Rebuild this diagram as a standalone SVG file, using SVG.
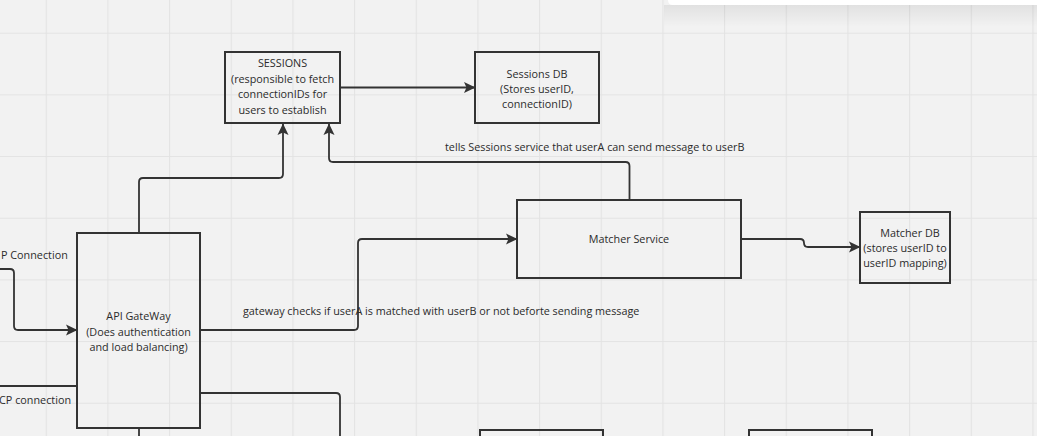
<svg xmlns="http://www.w3.org/2000/svg" width="1037" height="436" viewBox="0 0 1037 436">
<defs>
<pattern id="grid" x="45.7" y="32.7" width="61.67" height="61.67" patternUnits="userSpaceOnUse">
<path d="M0.5,0 V61.67 M0,0.5 H61.67" fill="none" stroke="#e3e3e3" stroke-width="1.2"/>
</pattern>
<marker id="arr" viewBox="0 0 12 12" refX="11" refY="6" markerWidth="12" markerHeight="12" markerUnits="userSpaceOnUse" orient="auto">
<path d="M0,0.5 L11.5,6 L0,11.5 L2.5,6 Z" fill="#333"/>
</marker>
<linearGradient id="sh" x1="0" y1="0" x2="0" y2="1">
<stop offset="0" stop-color="#000" stop-opacity="0.07"/>
<stop offset="1" stop-color="#000" stop-opacity="0"/>
</linearGradient>
</defs>
<style>
.box{fill:none;stroke:#333;stroke-width:2}
.c{fill:none;stroke:#333;stroke-width:1.8;stroke-linejoin:round}
text{font-family:"Open Sans","Noto Sans","Liberation Sans",sans-serif;font-size:10.8px;fill:#2b2b2b}
.m{text-anchor:middle}
</style>
<rect width="1037" height="436" fill="#f2f2f2"/>
<rect width="1037" height="436" fill="url(#grid)"/>
<g id="panel">
<rect x="664" y="5" width="373" height="22" fill="url(#sh)"/>
<path d="M668,0 H1037 V5 H673 Q668,5 668,0 Z" fill="#ffffff"/>
</g>
<g id="connectors">
<path class="c" marker-end="url(#arr)" d="M340,87.5 H475"/>
<path class="c" marker-end="url(#arr)" d="M139,233 V182 Q139,178 143,178 H279 Q283,178 283,174 V124"/>
<path class="c" marker-end="url(#arr)" d="M629.5,200 V166 Q629.5,162 625.5,162 H333 Q329,162 329,158 V124"/>
<path class="c" marker-end="url(#arr)" d="M200,330 H354 Q358,330 358,326 V243 Q358,239 362,239 H517"/>
<path class="c" marker-end="url(#arr)" d="M741,239 H800 Q804,239 804,243 Q804,247 808,247 H860"/>
<path class="c" marker-end="url(#arr)" d="M0,269 H10 Q14,269 14,273 V326 Q14,330 18,330 H77"/>
<path class="c" d="M0,386 H77"/>
<path class="c" d="M200,393 H336 Q340,393 340,397 V436"/>
<path class="c" d="M139,428 V436"/>
</g>
<g id="labels">
<text x="445" y="151">tells Sessions service that userA can send message to userB</text>
<text x="243" y="315">gateway checks if userA is matched with userB or not beforte sending message</text>
<text x="1" y="259">P Connection</text>
<text x="71" y="404" text-anchor="end">CP connection</text>
</g>
<g id="sessions">
<rect class="box" x="225" y="52" width="115" height="71"/>
<text class="m" x="282.5" y="67">SESSIONS</text>
<text class="m" x="282.5" y="82.5">(responsible to fetch</text>
<text class="m" x="282.5" y="98">connectionIDs for</text>
<text class="m" x="282.5" y="113.5">users to establish</text>
</g>
<g id="sessions-db">
<rect class="box" x="475" y="52" width="124" height="71"/>
<text class="m" x="537" y="77.5">Sessions DB</text>
<text class="m" x="537" y="93">(Stores userID,</text>
<text class="m" x="537" y="108">connectionID)</text>
</g>
<g id="matcher-service">
<rect class="box" x="517" y="200" width="224" height="78"/>
<text class="m" x="629" y="243">Matcher Service</text>
</g>
<g id="matcher-db">
<rect class="box" x="860" y="212" width="90" height="71"/>
<text class="m" x="910" y="236.5">Matcher DB</text>
<text class="m" x="905" y="251.5">(stores userID to</text>
<text class="m" x="905" y="266.5">userID mapping)</text>
</g>
<g id="api-gateway">
<rect class="box" x="77" y="233" width="123" height="195"/>
<text class="m" x="138.5" y="320">API GateWay</text>
<text class="m" x="138.5" y="335.5">(Does authentication</text>
<text class="m" x="138.5" y="351">and load balancing)</text>
</g>
<g id="bottom-box-1">
<rect class="box" x="480" y="430" width="123" height="20"/>
</g>
<g id="bottom-box-2">
<rect class="box" x="749" y="430" width="123" height="20"/>
</g>
</svg>
